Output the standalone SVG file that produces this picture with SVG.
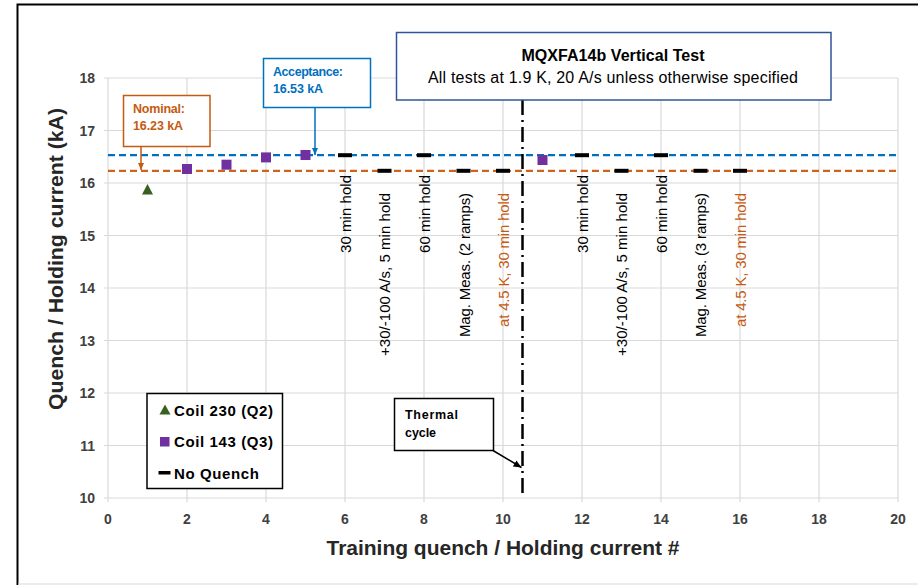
<svg xmlns="http://www.w3.org/2000/svg" width="918" height="585" viewBox="0 0 918 585">
<style>
.grid{stroke:#d9d9d9;stroke-width:1.2;fill:none}
.tick{font-family:"Liberation Sans",Arial,sans-serif;font-weight:bold;font-size:14px;fill:#404040}
.axt{font-family:"Liberation Sans",Arial,sans-serif;font-weight:bold;font-size:20px;fill:#262626}
.rot{font-family:"Liberation Sans",Arial,sans-serif;font-size:15px;fill:#000}
.rot.o{fill:#c55a11}
.lab{font-family:"Liberation Sans",Arial,sans-serif;font-weight:bold;font-size:12.5px}
.leg{font-family:"Liberation Sans",Arial,sans-serif;font-weight:bold;font-size:15px;fill:#000}
.nq{fill:#000}
.sq{fill:#7030a0}
</style>
<defs>
<marker id="ahB" markerWidth="8" markerHeight="8" refX="7" refY="4" orient="auto" markerUnits="userSpaceOnUse"><path d="M0,1 L7,4 L0,7 Z" fill="#0070c0"/></marker>
<marker id="ahO" markerWidth="8" markerHeight="8" refX="7" refY="4" orient="auto" markerUnits="userSpaceOnUse"><path d="M0,1 L7,4 L0,7 Z" fill="#c55a11"/></marker>
<marker id="ahK" markerWidth="9" markerHeight="9" refX="8" refY="4.5" orient="auto" markerUnits="userSpaceOnUse"><path d="M0,1 L8,4.5 L0,8 Z" fill="#000"/></marker>
</defs>
<rect width="918" height="585" fill="#fff"/>
<rect x="17.5" y="4.5" width="920" height="600" fill="#fff" stroke="#000" stroke-width="2"/>
<line x1="18" y1="584" x2="918" y2="584" stroke="#d9d9d9" stroke-width="1"/>

<g id="grid">
<path class="grid" d="M108,78V502M187,78V502M266,78V502M345,78V502M424,78V502M503,78V502M582,78V502M661,78V502M740,78V502M819,78V502M898,78V502"/>
<path class="grid" d="M104,78H898M104,130.5H898M104,183H898M104,235.5H898M104,288H898M104,340.5H898M104,393H898M104,445.5H898M104,498H898"/>
</g>

<g id="y-ticks" class="tick" text-anchor="end">
<text x="95" y="83">18</text><text x="95" y="135.5">17</text><text x="95" y="188">16</text><text x="95" y="240.5">15</text><text x="95" y="293">14</text><text x="95" y="345.5">13</text><text x="95" y="398">12</text><text x="95" y="450.5">11</text><text x="95" y="503">10</text>
</g>
<g id="x-ticks" class="tick" text-anchor="middle">
<text x="108" y="524">0</text><text x="187" y="524">2</text><text x="266" y="524">4</text><text x="345" y="524">6</text><text x="424" y="524">8</text><text x="503" y="524">10</text><text x="582" y="524">12</text><text x="661" y="524">14</text><text x="740" y="524">16</text><text x="819" y="524">18</text><text x="898" y="524">20</text>
</g>
<text id="y-title" class="axt" transform="translate(63,259) rotate(-90)" text-anchor="middle" textLength="302" lengthAdjust="spacingAndGlyphs">Quench / Holding current (kA)</text>
<text id="x-title" class="axt" x="503" y="555" text-anchor="middle" textLength="353" lengthAdjust="spacingAndGlyphs">Training quench / Holding current #</text>

<g id="acceptance-line"><line x1="108" y1="155.2" x2="898" y2="155.2" stroke="#0070c0" stroke-width="2.2" stroke-dasharray="7,4"/></g>
<g id="nominal-line"><line x1="108" y1="170.8" x2="898" y2="170.8" stroke="#d0631b" stroke-width="2.2" stroke-dasharray="7,4"/></g>

<g id="thermal-cycle-line"><line x1="522.5" y1="100" x2="522.5" y2="498" stroke="#000" stroke-width="2.5" stroke-dasharray="15,5,2,5"/></g>

<g id="data-coil230"><path d="M147.5,184 L153,194.5 L142,194.5 Z" fill="#38601f"/></g>
<g id="data-coil143">
<rect class="sq" x="182" y="164" width="10" height="10"/>
<rect class="sq" x="221.5" y="159.7" width="10" height="10"/>
<rect class="sq" x="261" y="152.4" width="10" height="10"/>
<rect class="sq" x="300.5" y="150" width="10" height="10"/>
<rect class="sq" x="537.5" y="155" width="10" height="10"/>
</g>
<g id="data-noquench">
<rect class="nq" x="338" y="153.2" width="14" height="4"/>
<rect class="nq" x="377.5" y="168.8" width="14" height="4"/>
<rect class="nq" x="417" y="153.2" width="14" height="4"/>
<rect class="nq" x="456.5" y="168.8" width="14" height="4"/>
<rect class="nq" x="496" y="168.8" width="14" height="4"/>
<rect class="nq" x="575" y="153.2" width="14" height="4"/>
<rect class="nq" x="614.5" y="168.8" width="14" height="4"/>
<rect class="nq" x="654" y="153.2" width="14" height="4"/>
<rect class="nq" x="693.5" y="168.8" width="14" height="4"/>
<rect class="nq" x="733" y="168.8" width="14" height="4"/>
</g>

<g id="point-labels">
<text class="rot" transform="translate(350.5,175) rotate(-90)" text-anchor="end" textLength="78">30 min hold</text>
<text class="rot" transform="translate(390,193) rotate(-90)" text-anchor="end" textLength="163">+30/-100 A/s, 5 min hold</text>
<text class="rot" transform="translate(429.5,175) rotate(-90)" text-anchor="end" textLength="78">60 min hold</text>
<text class="rot" transform="translate(469.5,193) rotate(-90)" text-anchor="end" textLength="144">Mag. Meas. (2 ramps)</text>
<text class="rot o" transform="translate(509,193) rotate(-90)" text-anchor="end" textLength="134">at 4.5 K, 30 min hold</text>
<text class="rot" transform="translate(587.5,175) rotate(-90)" text-anchor="end" textLength="78">30 min hold</text>
<text class="rot" transform="translate(627,193) rotate(-90)" text-anchor="end" textLength="163">+30/-100 A/s, 5 min hold</text>
<text class="rot" transform="translate(666.5,175) rotate(-90)" text-anchor="end" textLength="78">60 min hold</text>
<text class="rot" transform="translate(706,193) rotate(-90)" text-anchor="end" textLength="144">Mag. Meas. (3 ramps)</text>
<text class="rot o" transform="translate(746,193) rotate(-90)" text-anchor="end" textLength="134">at 4.5 K, 30 min hold</text>
</g>

<g id="connectors">
<line x1="141" y1="147" x2="141" y2="170" stroke="#c55a11" stroke-width="1.5" marker-end="url(#ahO)"/>
<line x1="315" y1="108" x2="315" y2="155" stroke="#0070c0" stroke-width="1.5" marker-end="url(#ahB)"/>
<line x1="493" y1="450.5" x2="521.5" y2="467.5" stroke="#000" stroke-width="1.5" marker-end="url(#ahK)"/>
</g>

<g id="nominal-box">
<rect x="123.5" y="95.5" width="86.5" height="51" fill="#fff" stroke="#c55a11" stroke-width="1.5"/>
<text class="lab" x="133" y="113" fill="#c55a11" textLength="52">Nominal:</text>
<text class="lab" x="133" y="130" fill="#c55a11" textLength="50">16.23 kA</text>
</g>
<g id="acceptance-box">
<rect x="263.5" y="58.5" width="107" height="49" fill="#fff" stroke="#0070c0" stroke-width="1.5"/>
<text class="lab" x="273" y="76" fill="#0070c0" textLength="70">Acceptance:</text>
<text class="lab" x="273" y="93" fill="#0070c0" textLength="50">16.53 kA</text>
</g>
<g id="title-box">
<rect x="396.5" y="32.5" width="434.5" height="67.5" fill="#fff" stroke="#2f5597" stroke-width="1.5"/>
<text x="613" y="61" text-anchor="middle" font-family="Liberation Sans, Arial, sans-serif" font-weight="bold" font-size="16" fill="#000" textLength="183">MQXFA14b Vertical Test</text>
<text x="613" y="83" text-anchor="middle" font-family="Liberation Sans, Arial, sans-serif" font-size="16" fill="#000" textLength="370">All tests at 1.9 K, 20 A/s unless otherwise specified</text>
</g>
<g id="thermal-box">
<rect x="394.5" y="398.5" width="99" height="52" fill="#fff" stroke="#000" stroke-width="1.5"/>
<text class="lab" x="405" y="419" fill="#000" textLength="53">Thermal</text>
<text class="lab" x="405" y="437" fill="#000" textLength="31">cycle</text>
</g>
<g id="legend">
<rect x="147" y="393.5" width="135.5" height="95" fill="#fff" stroke="#000" stroke-width="1.5"/>
<path d="M165,404.5 L170.5,414.5 L159.5,414.5 Z" fill="#38601f"/>
<text class="leg" x="174" y="415.5" textLength="99">Coil 230 (Q2)</text>
<rect class="sq" x="160" y="437" width="9.5" height="9.5"/>
<text class="leg" x="174" y="447" textLength="99">Coil 143 (Q3)</text>
<rect x="158.5" y="471" width="12" height="3.5" fill="#000"/>
<text class="leg" x="174" y="478.5" textLength="85">No Quench</text>
</g>
</svg>
